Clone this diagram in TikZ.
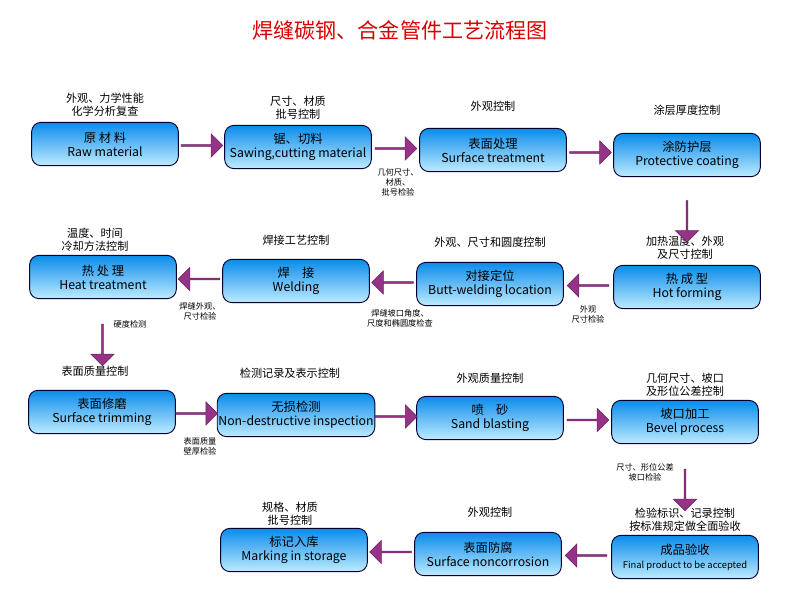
\documentclass[tikz,border=0pt]{standalone}
\usepackage{fontspec}
\setmainfont{Noto Sans CJK SC}
\usetikzlibrary{shapes.arrows,calc}
\definecolor{boxtop}{RGB}{10,140,235}
\definecolor{boxbot}{RGB}{190,235,255}
\definecolor{arrowc}{RGB}{150,50,135}
\tikzset{
  procbox/.style={draw=black!80!blue,thick,rounded corners=8pt,top color=boxtop,bottom color=boxbot,
    minimum width=4.4cm,minimum height=1.3cm,align=center,font=\fontsize{10.5}{12}\selectfont,inner sep=1pt},
  note/.style={align=center,font=\fontsize{9.5}{11}\selectfont},
  tiny/.style={align=center,font=\fontsize{7}{8.5}\selectfont},
  blk/.style={single arrow,fill=arrowc,draw=arrowc!70!black,minimum height=1.25cm,minimum width=0.7cm,
    single arrow head extend=0.08cm,inner sep=0pt}
}
\begin{document}
\begin{tikzpicture}[x=0.03cm,y=-0.03cm]
\useasboundingbox (0,0) rectangle (800,604);
% title
\node[text=red!85!black,font=\fontsize{18}{20}\selectfont] (title) at (400,30) {焊缝碳钢、合金管件工艺流程图};
% row 1
\node[procbox] (raw) at (105,144) {原 材 料\\Raw material};
\node[procbox] (saw) at (298,147) {锯、切料\\Sawing,cutting material};
\node[procbox] (surf) at (493,150) {表面处理\\Surface treatment};
\node[procbox] (coat) at (687,155) {涂防护层\\Protective coating};
% row 2
\node[procbox] (hot) at (687,287) {热 成 型\\Hot forming};
\node[procbox] (butt) at (490,284) {对接定位\\Butt-welding location};
\node[procbox] (weld) at (296,281) {焊\quad 接\\Welding};
\node[procbox] (heat) at (103,277) {热 处 理\\Heat treatment};
% row 3
\node[procbox] (trim) at (102,412) {表面修磨\\Surface trimming};
\node[procbox] (ndi) at (296,415) {无损检测\\Non-destructive inspection};
\node[procbox] (sand) at (490,418) {喷\quad 砂\\Sand blasting};
\node[procbox] (bevel) at (685,422) {坡口加工\\Bevel process};
% row 4
\node[procbox] (final) at (685,557) {成品验收\\{\fontsize{8}{9}\selectfont Final product to be accepted}};
\node[procbox] (noncor) at (488,554) {表面防腐\\Surface noncorrosion};
\node[procbox] (mark) at (294,550) {标记入库\\Marking in storage};
% labels above boxes
\node[note] at (105,105) {外观、力学性能\\化学分析复查};
\node[note] at (298,108) {尺寸、材质\\批号控制};
\node[note] at (493,106) {外观控制};
\node[note] at (687,110) {涂层厚度控制};
\node[note] at (685,248) {加热温度、外观\\及尺寸控制};
\node[note] at (490,242) {外观、尺寸和圆度控制};
\node[note] at (296,240) {焊接工艺控制};
\node[note] at (95,240) {温度、时间\\冷却方法控制};
\node[note] at (95,371) {表面质量控制};
\node[note] at (290,373) {检测记录及表示控制};
\node[note] at (490,378) {外观质量控制};
\node[note] at (685,385) {几何尺寸、坡口\\及形位公差控制};
\node[note] at (685,520) {检验标识、记录控制\\按标准规定做全面验收};
\node[note] at (490,512) {外观控制};
\node[note] at (290,514) {规格、材质\\批号控制};
% block arrows
\node[blk] (a1) at ($(raw.east)!0.5!(saw.west)$) {};
\node[blk] (a2) at ($(saw.east)!0.5!(surf.west)$) {};
\node[blk] (a3) at ($(surf.east)!0.5!(coat.west)$) {};
\node[blk,rotate=-90] (a4) at ($(coat.south)!0.5!(hot.north)$) {};
\node[blk,rotate=180] (a5) at ($(hot.west)!0.5!(butt.east)$) {};
\node[blk,rotate=180] (a6) at ($(butt.west)!0.5!(weld.east)$) {};
\node[blk,rotate=180] (a7) at ($(weld.west)!0.5!(heat.east)$) {};
\node[blk,rotate=-90] (a8) at ($(heat.south)!0.5!(trim.north)$) {};
\node[blk] (a9) at ($(trim.east)!0.5!(ndi.west)$) {};
\node[blk] (a10) at ($(ndi.east)!0.5!(sand.west)$) {};
\node[blk] (a11) at ($(sand.east)!0.5!(bevel.west)$) {};
\node[blk,rotate=-90] (a12) at ($(bevel.south)!0.5!(final.north)$) {};
\node[blk,rotate=180] (a13) at ($(final.west)!0.5!(noncor.east)$) {};
\node[blk,rotate=180] (a14) at ($(noncor.west)!0.5!(mark.east)$) {};
% arrow notes
\node[tiny] at (398,182) {几何尺寸、\\材质、\\批号检验};
\node[tiny] at (588,314) {外观\\尺寸检验};
\node[tiny] at (400,318) {焊缝坡口角度、\\尺度和椭圆度检查};
\node[tiny] at (200,311) {焊缝外观、\\尺寸检验};
\node[tiny] at (130,324) {硬度检测};
\node[tiny] at (200,446) {表面质量\\壁厚检验};
\node[tiny] at (645,472) {尺寸、形位公差\\坡口检验};
\end{tikzpicture}
\end{document}
